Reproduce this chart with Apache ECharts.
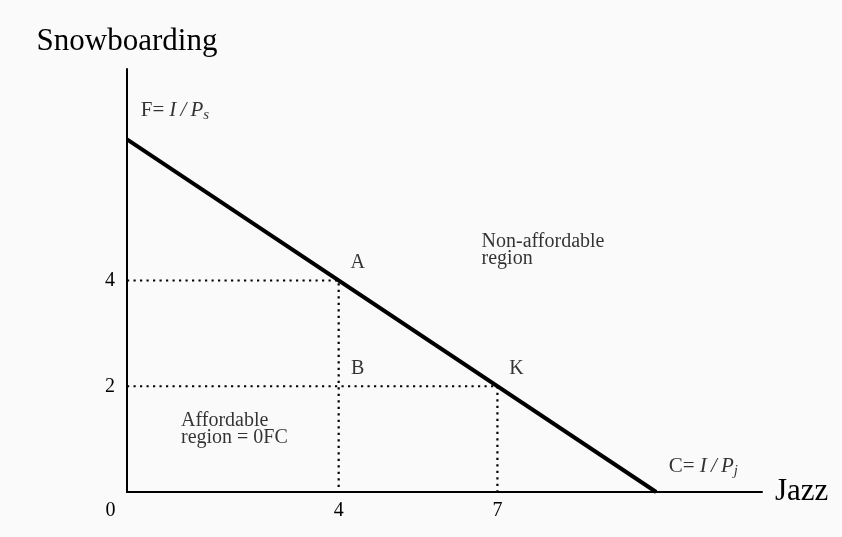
<!DOCTYPE html>
<html><head><meta charset="utf-8">
<script src="https://cdn.jsdelivr.net/npm/echarts@6/dist/echarts.min.js"></script>
<style>html,body{margin:0;padding:0;background:#fafafa}#c{width:842px;height:537px}</style>
</head><body><div id="c"></div>
<script>
const xAxisName = 'Jazz';
const yAxisName = 'Snowboarding';
const xTickLabels = [0, 4, 7];
const yTickLabels = [2, 4];
const budgetJazz = [0, 10];
const budgetSnow = [6.67, 0];
const pointNames = ['A', 'B', 'K'];
const pointJazz = [4, 4, 7];
const pointSnow = [4, 2, 2];
const guideJazz = [4, 7];
const guideSnow = [4, 2];
const annLabels = ['{r|F=} {i|I\u2009/\u2009P}{s|s}', '{r|C=} {i|I\u2009/\u2009P}{s|j}', 'Non-affordable\nregion', 'Affordable\nregion = 0FC'];
const annJazz = [0.26, 10.24, 6.70, 1.02];
const annSnow = [7.22, 0.49, 4.57, 1.18];

const FONT = 'Liberation Serif';
const series = [];
series.push({
  type: 'line', symbol: 'none', silent: true,
  data: budgetJazz.map((x, i) => [x, budgetSnow[i]]),
  lineStyle: { color: '#000', width: 4 }
});
guideJazz.forEach((gx, i) => {
  const gy = guideSnow[i];
  series.push({
    type: 'line', symbol: 'none', silent: true,
    data: [[0, gy], [gx, gy], [gx, 0]],
    lineStyle: { color: '#000', width: 2.2, type: [2.2, 4.3], cap: 'butt' }
  });
});
series.push({
  type: 'scatter', symbolSize: 0, silent: true,
  data: pointNames.map((n, i) => ({ name: n, value: [pointJazz[i], pointSnow[i]] })),
  label: { show: true, position: 'inside', offset: [19, -18], formatter: p => p.name,
    fontFamily: FONT, fontSize: 20, color: '#000' }
});
series.push({
  type: 'scatter', symbolSize: 0, silent: true,
  data: annLabels.map((t, i) => ({ name: t, value: [annJazz[i], annSnow[i]] })),
  label: { show: true, position: 'inside', align: 'left', verticalAlign: 'middle',
    formatter: p => p.name, fontFamily: FONT, fontSize: 20, lineHeight: 17, color: '#000',
    rich: {
      r: { fontFamily: FONT, fontSize: 21, lineHeight: 24, color: '#000' },
      i: { fontFamily: FONT, fontSize: 21, fontStyle: 'italic', lineHeight: 24, color: '#000' },
      s: { fontFamily: FONT, fontSize: 15, fontStyle: 'italic', lineHeight: 14, verticalAlign: 'bottom', color: '#000' }
    } }
});

const chart = echarts.init(document.getElementById('c'));
chart.setOption({
  backgroundColor: '#fafafa',
  animation: false,
  grid: { left: 127, right: 80, top: 69, bottom: 45 },
  xAxis: {
    type: 'value', min: 0, max: 12, interval: 1,
    name: xAxisName, nameLocation: 'end', nameGap: 13,
    nameTextStyle: { fontFamily: FONT, fontSize: 31, color: '#000' },
    axisLine: { lineStyle: { color: '#000', width: 2 } },
    axisTick: { show: false }, splitLine: { show: false },
    axisLabel: {
      margin: 9, fontFamily: FONT, fontSize: 20, color: '#000',
      formatter: v => v === 0 ? '{z|0}' : (xTickLabels.includes(v) ? String(v) : ''),
      rich: { z: { fontFamily: FONT, fontSize: 20, color: '#000', padding: [0, 33, 0, 0] } }
    }
  },
  yAxis: {
    type: 'value', min: 0, max: 8, interval: 1,
    name: yAxisName, nameLocation: 'end', nameGap: 12,
    nameTextStyle: { fontFamily: FONT, fontSize: 31, color: '#000' },
    axisLine: { lineStyle: { color: '#000', width: 2 } },
    axisTick: { show: false }, splitLine: { show: false },
    axisLabel: {
      margin: 12, fontFamily: FONT, fontSize: 20, color: '#000',
      formatter: v => yTickLabels.includes(v) ? String(v) : ''
    }
  },
  series
});
</script></body></html>
